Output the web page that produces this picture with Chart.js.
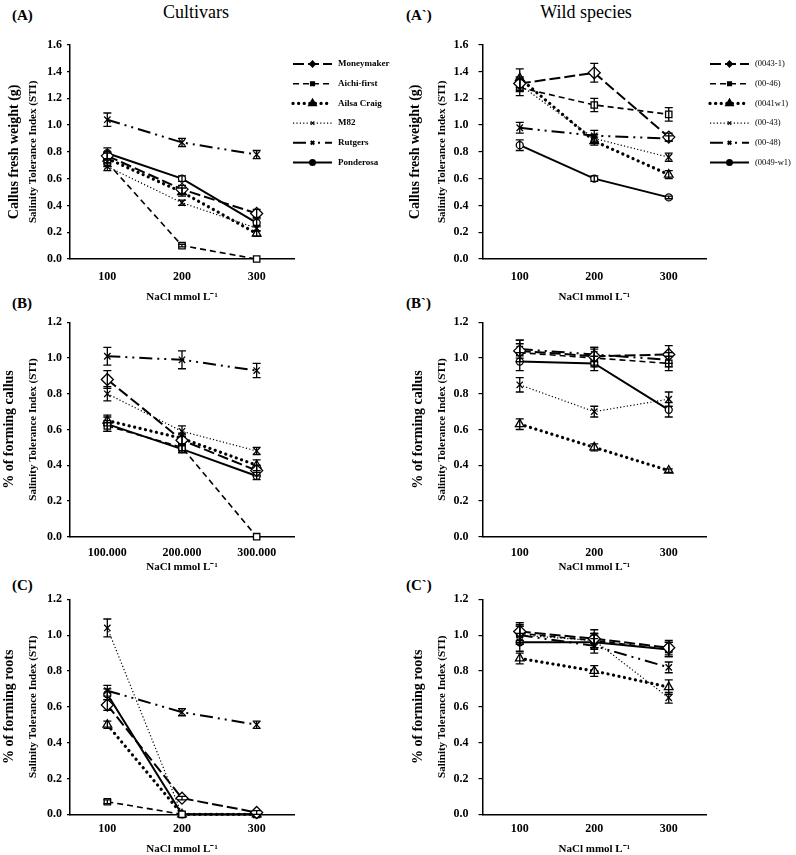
<!DOCTYPE html>
<html>
<head>
<meta charset="utf-8">
<script src="https://cdn.jsdelivr.net/npm/chart.js@4.4.1/dist/chart.umd.min.js"></script>
<style>
  body { margin: 0; background: #fff; width: 796px; height: 855px; position: relative; overflow: hidden; font-family: "Liberation Serif", serif; }
  canvas { position: absolute; left: 0; top: 0; }
  .tag { position: absolute; font-weight: bold; font-size: 15px; line-height: 18px; }
  .head { position: absolute; font-size: 18px; line-height: 22px; width: 200px; text-align: center; }
</style>
</head>
<body>
<div class="head" style="left:96px;top:1px">Cultivars</div>
<div class="head" style="left:486px;top:1px">Wild species</div>
<div class="tag" style="left:12px;top:6px">(A)</div>
<div class="tag" style="left:406px;top:6px">(A`)</div>
<div class="tag" style="left:12px;top:294px">(B)</div>
<div class="tag" style="left:406px;top:294px">(B`)</div>
<div class="tag" style="left:12px;top:576px">(C)</div>
<div class="tag" style="left:406px;top:576px">(C`)</div>
<canvas id="cA" width="796" height="855"></canvas>
<canvas id="cA2" width="796" height="855"></canvas>
<canvas id="cB" width="796" height="855"></canvas>
<canvas id="cB2" width="796" height="855"></canvas>
<canvas id="cC" width="796" height="855"></canvas>
<canvas id="cC2" width="796" height="855"></canvas>
<script>
const doses = [100, 200, 300];
const cultivars = ['Moneymaker', 'Aichi-first', 'Ailsa Craig', 'M82', 'Rutgers', 'Ponderosa'];
const wildLines = ['(0043-1)', '(00-46)', '(0041w1)', '(00-43)', '(00-48)', '(0049-w1)'];

const yTicksWeight = [0, 0.2, 0.4, 0.6, 0.8, 1.0, 1.2, 1.4, 1.6];
const yTicksPercent = [0, 0.2, 0.4, 0.6, 0.8, 1.0, 1.2];
const xTickLabels = ['100', '200', '300'];
const xTickLabelsB = ['100.000', '200.000', '300.000'];

// STI of callus fresh weight (rows follow the name lists)
const weightCult = [[0.77, 0.52, 0.34], [0.72, 0.10, 0.00], [0.75, 0.50, 0.19], [0.69, 0.42, 0.23], [1.04, 0.87, 0.78], [0.79, 0.60, 0.27]];
const weightCultSE = [[0.03, 0.03, 0.03], [0.03, 0.01, 0.00], [0.04, 0.03, 0.02], [0.03, 0.02, 0.02], [0.05, 0.03, 0.03], [0.04, 0.02, 0.03]];
const weightWild = [[1.31, 1.39, 0.91], [1.28, 1.15, 1.08], [1.35, 0.88, 0.63], [1.30, 0.90, 0.76], [0.98, 0.92, 0.90], [0.85, 0.60, 0.46]];
const weightWildSE = [[0.05, 0.07, 0.03], [0.06, 0.05, 0.05], [0.07, 0.03, 0.03], [0.05, 0.03, 0.03], [0.04, 0.04, 0.02], [0.04, 0.02, 0.01]];

// STI of % forming callus
const callusCult = [[0.88, 0.54, 0.37], [0.62, 0.50, 0.00], [0.65, 0.55, 0.40], [0.80, 0.59, 0.48], [1.01, 0.99, 0.93], [0.63, 0.49, 0.34]];
const callusCultSE = [[0.05, 0.03, 0.03], [0.03, 0.02, 0.00], [0.03, 0.03, 0.03], [0.04, 0.03, 0.02], [0.05, 0.05, 0.04], [0.04, 0.02, 0.02]];
const callusWild = [[1.04, 1.01, 1.02], [1.03, 1.00, 0.97], [0.63, 0.50, 0.37], [0.85, 0.70, 0.77], [1.05, 1.02, 0.99], [0.98, 0.97, 0.71]];
const callusWildSE = [[0.06, 0.05, 0.05], [0.05, 0.05, 0.04], [0.03, 0.02, 0.01], [0.04, 0.03, 0.04], [0.05, 0.04, 0.04], [0.05, 0.04, 0.04]];

// STI of % forming roots
const rootsCult = [[0.61, 0.09, 0.01], [0.07, 0.00, 0.00], [0.50, 0.00, 0.00], [1.04, 0.00, 0.00], [0.69, 0.57, 0.50], [0.67, 0.00, 0.00]];
const rootsCultSE = [[0.03, 0.01, 0.01], [0.01, 0.00, 0.00], [0.02, 0.00, 0.00], [0.05, 0.00, 0.00], [0.03, 0.02, 0.02], [0.03, 0.00, 0.00]];
const rootsWild = [[1.02, 0.98, 0.93], [1.01, 0.97, 0.92], [0.87, 0.80, 0.71], [1.00, 0.97, 0.65], [1.00, 0.94, 0.82], [0.96, 0.96, 0.92]];
const rootsWildSE = [[0.05, 0.05, 0.04], [0.05, 0.04, 0.04], [0.03, 0.03, 0.04], [0.05, 0.04, 0.03], [0.05, 0.04, 0.03], [0.05, 0.04, 0.04]];

// line look per genotype slot
const lineStyles = [
  { dash: [11, 4], width: 2, point: 'rectRot', r: 6 },
  { dash: [6, 4], width: 1.6, point: 'rect', r: 4.5 },
  { dash: [0.1, 5.5], width: 3.2, point: 'triangle', r: 5 },
  { dash: [1.2, 2.2], width: 1.2, point: 'crossRot', r: 4.5 },
  { dash: [13, 5, 2, 5, 2, 5], width: 2, point: 'crossRot', r: 4.5 },
  { dash: [], width: 2, point: 'circle', r: 3.5 }
];

const FONT = '"Liberation Serif", "Times New Roman", serif';
const leftCol = { L: 70, R: 294, yTitleX: 33, tickLen: 3, tickPad: 5, legX: 293, legTextX: 338, legBold: true };
const rightCol = { L: 482.5, R: 706, yTitleX: 441.7, tickLen: 4, tickPad: 10, legX: 710, legTextX: 755, legBold: false };
const rows = [
  { T: 44.7, B: 259, labGap: 17.7, titleGap: 37.7 },
  { T: 322.3, B: 536.7, labGap: 16, titleGap: 30.5 },
  { T: 599.3, B: 814.3, labGap: 15, titleGap: 35 }
];

const panels = [
  { id: 'cA', col: leftCol, row: rows[0], names: cultivars, means: weightCult, se: weightCultSE, yTicks: yTicksWeight, xLabels: xTickLabels, outer: 'Callus fresh weight (g)', outerX: 14, legY: 64 },
  { id: 'cA2', col: rightCol, row: rows[0], names: wildLines, means: weightWild, se: weightWildSE, yTicks: yTicksWeight, xLabels: xTickLabels, outer: 'Callus fresh weight (g)', outerX: 415, legY: 64 },
  { id: 'cB', col: leftCol, row: rows[1], names: cultivars, means: callusCult, se: callusCultSE, yTicks: yTicksPercent, xLabels: xTickLabelsB, outer: '% of forming callus', outerX: 9 },
  { id: 'cB2', col: rightCol, row: rows[1], names: wildLines, means: callusWild, se: callusWildSE, yTicks: yTicksPercent, xLabels: xTickLabels, outer: '% of forming callus', outerX: 418 },
  { id: 'cC', col: leftCol, row: rows[2], names: cultivars, means: rootsCult, se: rootsCultSE, yTicks: yTicksPercent, xLabels: xTickLabels, outer: '% of forming roots', outerX: 9 },
  { id: 'cC2', col: rightCol, row: rows[2], names: wildLines, means: rootsWild, se: rootsWildSE, yTicks: yTicksPercent, xLabels: xTickLabels, outer: '% of forming roots', outerX: 418 }
];

function drawMarker(ctx, style, r, x, y) {
  if (Chart.helpers && Chart.helpers.drawPoint) {
    Chart.helpers.drawPoint(ctx, { pointStyle: style, radius: r, borderWidth: 1, rotation: 0 }, x, y);
  } else {
    ctx.beginPath(); ctx.arc(x, y, r, 0, Math.PI * 2); ctx.fill(); ctx.stroke();
  }
}

function panelPlugin(p) {
  return {
    id: 'panelExtras',
    afterDatasetsDraw(chart) {
      const { ctx, scales: { x, y } } = chart;
      ctx.save();
      ctx.strokeStyle = '#000';
      ctx.lineWidth = 1.3;
      ctx.setLineDash([]);
      chart.data.datasets.forEach(ds => {
        ds.data.forEach((pt, j) => {
          const e = ds.se[j];
          if (!e) return;
          const px = x.getPixelForValue(pt.x);
          const top = y.getPixelForValue(pt.y + e);
          const bot = y.getPixelForValue(pt.y - e);
          ctx.beginPath();
          ctx.moveTo(px, top); ctx.lineTo(px, bot);
          ctx.moveTo(px - 4, top); ctx.lineTo(px + 4, top);
          ctx.moveTo(px - 4, bot); ctx.lineTo(px + 4, bot);
          ctx.stroke();
        });
      });
      ctx.restore();
    },
    afterDraw(chart) {
      const ctx = chart.ctx;
      const area = chart.chartArea;
      ctx.save();
      ctx.fillStyle = '#000';
      ctx.font = 'bold 14px ' + FONT;
      ctx.textAlign = 'center';
      ctx.textBaseline = 'middle';
      ctx.translate(p.outerX, (area.top + area.bottom) / 2);
      ctx.rotate(-Math.PI / 2);
      ctx.fillText(p.outer, 0, 0);
      ctx.restore();

      if (!p.legY) return;
      chart.data.datasets.forEach((ds, i) => {
        const ly = p.legY + i * 19.7;
        const x1 = p.col.legX, x2 = p.col.legX + 39;
        ctx.save();
        ctx.strokeStyle = '#000';
        ctx.fillStyle = '#000';
        ctx.lineWidth = ds.borderWidth;
        ctx.lineCap = ds.borderCapStyle;
        ctx.setLineDash(ds.borderDash);
        ctx.beginPath(); ctx.moveTo(x1, ly); ctx.lineTo(x2, ly); ctx.stroke();
        ctx.setLineDash([]);
        ctx.lineCap = 'butt';
        drawMarker(ctx, ds.pointStyle, 2.5, (x1 + x2) / 2, ly);
        ctx.font = (p.col.legBold ? 'bold 9px ' : '8.5px ') + FONT;
        ctx.textAlign = 'left';
        ctx.textBaseline = 'middle';
        ctx.fillText(ds.label, p.col.legTextX, ly);
        ctx.restore();
      });
    }
  };
}

function buildPanel(p) {
  const c = p.col, r = p.row;
  const titleLH = 11 * 1.2, tickLH = 12 * 1.2, yTitleLH = 11 * 1.2;
  const xH = r.titleGap + titleLH / 2;
  const datasets = p.names.map((name, i) => {
    const s = lineStyles[i];
    return {
      label: name,
      data: doses.map((d, j) => ({ x: d, y: p.means[i][j] })),
      se: p.se[i],
      borderColor: '#000',
      borderWidth: s.width,
      borderDash: s.dash,
      borderCapStyle: s.dash.length && s.dash[0] < 1 ? 'round' : 'butt',
      pointStyle: s.point,
      pointRadius: s.r,
      pointBackgroundColor: '#fff',
      pointBorderColor: '#000',
      pointBorderWidth: 1.3,
      tension: 0,
      fill: false,
      clip: false
    };
  });
  return new Chart(document.getElementById(p.id), {
    type: 'line',
    data: { datasets },
    options: {
      responsive: false,
      animation: false,
      devicePixelRatio: 1,
      events: [],
      layout: { padding: { left: 0, top: r.T, right: 796 - c.R, bottom: 855 - r.B - xH } },
      scales: {
        x: {
          type: 'linear', min: 50, max: 350,
          afterFit: s => { s.height = xH; },
          afterBuildTicks: s => { s.ticks = doses.map(v => ({ value: v })); },
          ticks: {
            color: '#000', maxRotation: 0, autoSkip: false,
            padding: r.labGap - tickLH / 2,
            font: { family: FONT, size: 12, weight: 'bold', lineHeight: 1.2 },
            callback: v => p.xLabels[doses.indexOf(v)]
          },
          grid: { display: false, drawTicks: false },
          border: { display: true, color: '#000', width: 1.5 },
          title: {
            display: true, text: 'NaCl mmol L⁻¹', color: '#000', padding: 0,
            font: { family: FONT, size: 11, weight: 'bold', lineHeight: 1.2 }
          }
        },
        y: {
          min: 0, max: p.yTicks[p.yTicks.length - 1],
          afterFit: s => { s.width = c.L; },
          afterBuildTicks: s => { s.ticks = p.yTicks.map(v => ({ value: v })); },
          ticks: {
            color: '#000', padding: c.tickPad,
            font: { family: FONT, size: 12, weight: 'bold', lineHeight: 1.2 },
            callback: v => v.toFixed(1)
          },
          grid: { display: true, drawOnChartArea: false, drawTicks: true, tickLength: c.tickLen, color: '#000', lineWidth: 1.2 },
          border: { display: true, color: '#000', width: 1.5 },
          title: {
            display: true, text: 'Salinity Tolerance Index (STI)', color: '#000',
            padding: { top: c.yTitleX - yTitleLH / 2, bottom: 0 },
            font: { family: FONT, size: 11, weight: 'bold', lineHeight: 1.2 }
          }
        }
      },
      plugins: { legend: { display: false }, tooltip: { enabled: false } }
    },
    plugins: [panelPlugin(p)]
  });
}

window.onload = () => {
  panels.forEach(buildPanel);
};
</script>
</body>
</html>
